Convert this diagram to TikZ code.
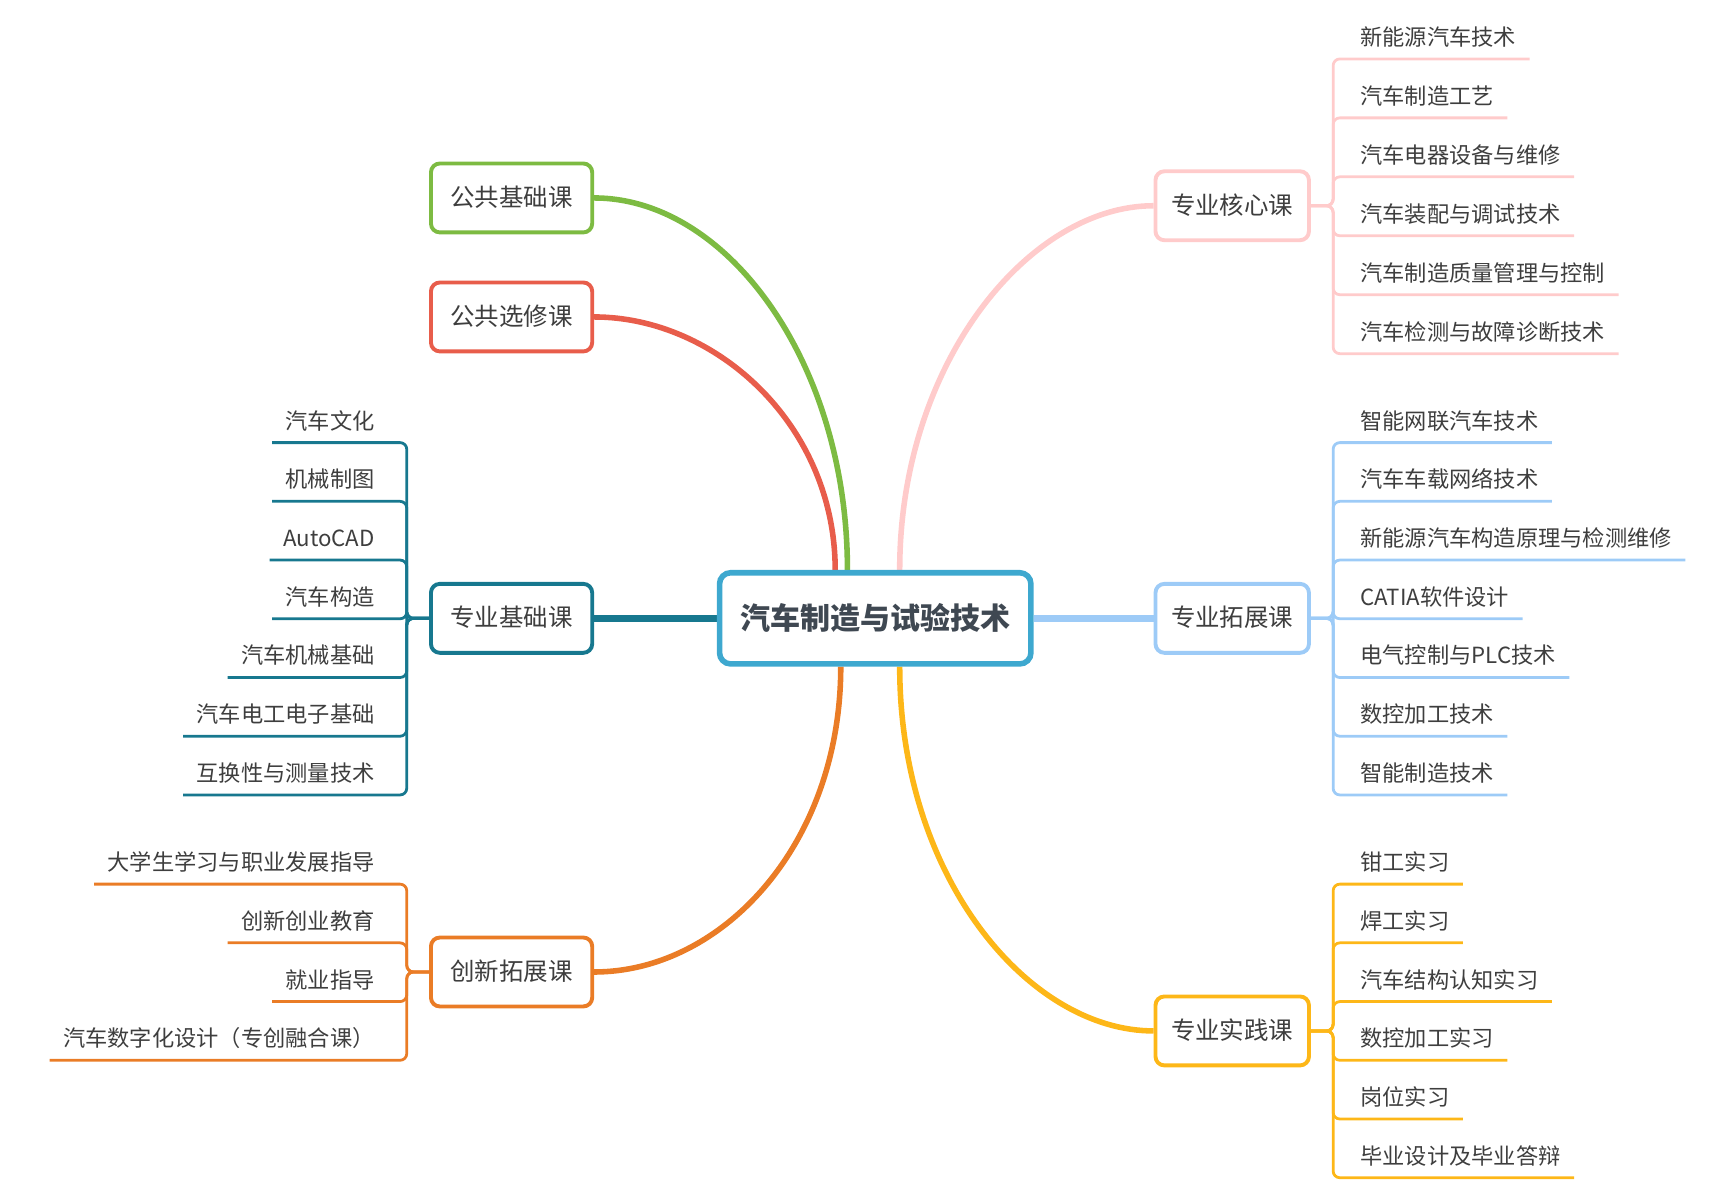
\documentclass[tikz,border=0pt]{standalone}
\usepackage{fontspec}
\setmainfont{Noto Sans CJK SC}
\usetikzlibrary{backgrounds}

\definecolor{rootc}{HTML}{3EA8CF}
\definecolor{greenc}{HTML}{7DBB42}
\definecolor{redc}{HTML}{E85D4B}
\definecolor{tealc}{HTML}{17788F}
\definecolor{orangec}{HTML}{EA7C26}
\definecolor{pinkc}{HTML}{FFCBCB}
\definecolor{bluec}{HTML}{9DCBF7}
\definecolor{yellowc}{HTML}{FDB718}
\definecolor{txtc}{HTML}{3E3E3E}
\definecolor{roottxt}{HTML}{3F4852}

\tikzset{
  root/.style={draw=rootc, line width=5pt, rounded corners=10pt, fill=white,
    minimum width=280pt, minimum height=82pt, text=roottxt,
    font=\bfseries\fontsize{27}{30}\selectfont, text height=23pt, text depth=3pt},
  topic/.style={draw=#1, line width=3.5pt, rounded corners=8pt, fill=white,
    minimum width=145pt, minimum height=62pt, text=txtc,
    font=\fontsize{22}{26}\selectfont, text height=18pt, text depth=3pt},
  leaf/.style={inner xsep=12pt, inner ysep=8pt, text height=16pt, text depth=4pt,
    text=txtc, font=\fontsize{20}{24}\selectfont},
  leafl/.style={leaf, anchor=south east},
  leafr/.style={leaf, anchor=south west},
  branch/.style={draw=#1, line width=5pt},
  twig/.style={draw=#1, line width=2.5pt, rounded corners=6pt},
}

\begin{document}
\begin{tikzpicture}[x=1pt, y=-1pt]
  \useasboundingbox (0,0) rectangle (1561,1076);

  % centre and main topics
  \node[root] (root) at (787,556) {汽车制造与试验技术};

  \node[topic=greenc] (gj) at (460,178) {公共基础课};
  \node[topic=redc] (gx) at (460,285) {公共选修课};
  \node[topic=tealc] (zj) at (460,556) {专业基础课};
  \node[topic=orangec] (cx) at (460,874) {创新拓展课};

  \node[topic=pinkc, minimum width=138pt] (zh) at (1108,185) {专业核心课};
  \node[topic=bluec, minimum width=138pt] (zt) at (1108,556) {专业拓展课};
  \node[topic=yellowc, minimum width=138pt] (zs) at (1108,927) {专业实践课};

  % branches from the centre
  \begin{pgfonlayer}{background}
    \draw[branch=greenc] ([xshift=-25pt]root.north) .. controls +(0,-186) and +(120,0) .. (gj.east);
    \draw[branch=redc] ([xshift=-36pt]root.north) .. controls +(0,-130) and +(110,0) .. (gx.east);
    \draw[branch=tealc, line width=6pt] (root.west) -- (zj.east);
    \draw[branch=orangec] ([xshift=-31pt]root.south) .. controls +(0,160) and +(115,0) .. (cx.east);
    \draw[branch=pinkc] ([xshift=22pt]root.north) .. controls +(0,-186) and +(-112,0) .. (zh.west);
    \draw[branch=bluec, line width=6pt] (root.east) -- (zt.west);
    \draw[branch=yellowc] ([xshift=22pt]root.south) .. controls +(0,190) and +(-112,0) .. (zs.west);
  \end{pgfonlayer}

  % left leaves
  \foreach \t [count=\i] in {汽车文化,机械制图,AutoCAD,汽车构造,汽车机械基础,汽车电工电子基础,互换性与测量技术} {
    \node[leafl] (zj\i) at (349,{398+52.8*(\i-1)}) {\t};
    \draw[twig=tealc] (zj.west) -- ++(-20,0) |- (zj\i.south east) -- (zj\i.south west);
  }
  \foreach \t [count=\i] in {大学生学习与职业发展指导,创新创业教育,就业指导,汽车数字化设计（专创融合课）} {
    \node[leafl] (cx\i) at (349,{795+52.8*(\i-1)}) {\t};
    \draw[twig=orangec] (cx.west) -- ++(-20,0) |- (cx\i.south east) -- (cx\i.south west);
  }

  % right leaves
  \foreach \t [count=\i] in {新能源汽车技术,汽车制造工艺,汽车电器设备与维修,汽车装配与调试技术,汽车制造质量管理与控制,汽车检测与故障诊断技术} {
    \node[leafr] (zh\i) at (1211,{53+53*(\i-1)}) {\t};
    \draw[twig=pinkc] (zh.east) -- ++(20,0) |- (zh\i.south west) -- (zh\i.south east);
  }
  \foreach \t [count=\i] in {智能网联汽车技术,汽车车载网络技术,新能源汽车构造原理与检测维修,CATIA软件设计,电气控制与PLC技术,数控加工技术,智能制造技术} {
    \node[leafr] (zt\i) at (1211,{398+52.8*(\i-1)}) {\t};
    \draw[twig=bluec] (zt.east) -- ++(20,0) |- (zt\i.south west) -- (zt\i.south east);
  }
  \foreach \t [count=\i] in {钳工实习,焊工实习,汽车结构认知实习,数控加工实习,岗位实习,毕业设计及毕业答辩} {
    \node[leafr] (zs\i) at (1211,{795+52.8*(\i-1)}) {\t};
    \draw[twig=yellowc] (zs.east) -- ++(20,0) |- (zs\i.south west) -- (zs\i.south east);
  }
\end{tikzpicture}
\end{document}
